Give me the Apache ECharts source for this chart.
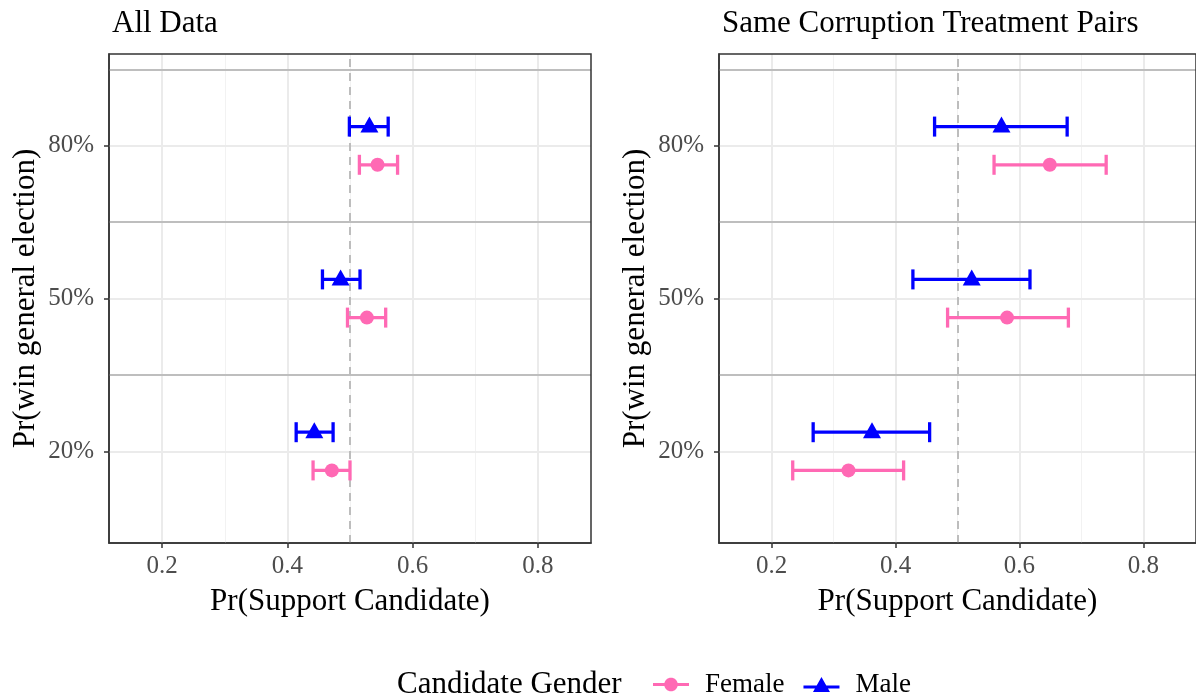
<!DOCTYPE html>
<html>
<head>
<meta charset="utf-8">
<script src="https://cdn.jsdelivr.net/npm/echarts@6/dist/echarts.min.js"></script>
<style>
html,body{margin:0;padding:0;background:#fff;}
#chart{width:1196px;height:698px;}
</style>
</head>
<body>
<div id="chart"></div>
<script>
// ---- data ----
const categories = ['20%', '50%', '80%'];
const xTicks = [0.2, 0.4, 0.6, 0.8];
const xMinor = [0.3, 0.5, 0.7];
const panelTitles = ['All Data', 'Same Corruption Treatment Pairs'];

const allFemaleEst = [0.471, 0.527, 0.544];
const allFemaleLo  = [0.441, 0.496, 0.515];
const allFemaleHi  = [0.500, 0.557, 0.576];
const allMaleEst   = [0.443, 0.485, 0.531];
const allMaleLo    = [0.414, 0.456, 0.499];
const allMaleHi    = [0.473, 0.516, 0.561];

const sameFemaleEst = [0.324, 0.580, 0.649];
const sameFemaleLo  = [0.234, 0.484, 0.559];
const sameFemaleHi  = [0.413, 0.679, 0.740];
const sameMaleEst   = [0.362, 0.523, 0.571];
const sameMaleLo    = [0.267, 0.428, 0.463];
const sameMaleHi    = [0.455, 0.617, 0.677];

const refLine = 0.5;
const separators = [1.5, 2.5, 3.5];

// ---- styling ----
const FONT = '"Liberation Serif", "DejaVu Serif", serif';
const FEMALE = '#FF69B4';
const MALE = '#0000FF';
const DODGE = 0.125;

const panels = [
  {female: [allFemaleEst, allFemaleLo, allFemaleHi], male: [allMaleEst, allMaleLo, allMaleHi]},
  {female: [sameFemaleEst, sameFemaleLo, sameFemaleHi], male: [sameMaleEst, sameMaleLo, sameMaleHi]}
];

function errRender(color) {
  return function (params, api) {
    const y = api.value(2);
    const a = api.coord([api.value(0), y]);
    const b = api.coord([api.value(1), y]);
    const h = 10, w = 3.3;
    const st = {fill: color};
    return {type: 'group', children: [
      {type: 'rect', shape: {x: a[0], y: a[1] - w / 2, width: b[0] - a[0], height: w}, style: st},
      {type: 'rect', shape: {x: a[0] - w / 2, y: a[1] - h, width: w, height: 2 * h}, style: st},
      {type: 'rect', shape: {x: b[0] - w / 2, y: b[1] - h, width: w, height: 2 * h}, style: st}
    ]};
  };
}

// circle icon path built as a polygon
function circlePath(cx, cy, r, n) {
  let s = '';
  for (let k = 0; k < n; k++) {
    const t = 2 * Math.PI * k / n;
    s += (k === 0 ? 'M' : 'L') + (cx + r * Math.cos(t)).toFixed(2) + ',' + (cy + r * Math.sin(t)).toFixed(2);
  }
  return s + 'Z';
}

const grids = [], xAxes = [], yAxes = [], series = [], titles = [];
const lefts = [109, 719];
panels.forEach((p, i) => {
  grids.push({left: lefts[i], top: 54, width: 482, height: 489, show: true,
    borderColor: '#333333', borderWidth: 1.5, backgroundColor: 'transparent', z: 10});
  titles.push({text: panelTitles[i], left: lefts[i] - 2, top: 3,
    textStyle: {fontFamily: FONT, fontSize: 31, fontWeight: 'normal', color: '#000'}});
  xAxes.push({type: 'value', gridIndex: i, min: 0.115, max: 0.885,
    name: 'Pr(Support Candidate)', nameLocation: 'middle', nameGap: 43,
    nameTextStyle: {fontFamily: FONT, fontSize: 31, color: '#000'},
    axisLine: {show: true, onZero: false, lineStyle: {color: '#333333', width: 1.5}},
    axisTick: {show: true, customValues: xTicks, length: 5, lineStyle: {color: '#333333', width: 1.5}},
    axisLabel: {customValues: xTicks, formatter: v => v.toFixed(1), margin: 11,
      fontFamily: FONT, fontSize: 25, color: '#4d4d4d'},
    splitLine: {show: false}});
  yAxes.push({type: 'value', gridIndex: i, min: 0.4, max: 3.6,
    name: 'Pr(win general election)', nameLocation: 'middle', nameGap: 68, nameRotate: 90,
    nameTextStyle: {fontFamily: FONT, fontSize: 31, color: '#000'},
    axisLine: {show: true, onZero: false, lineStyle: {color: '#333333', width: 1.5}},
    axisTick: {show: true, customValues: [1, 2, 3], length: 5, lineStyle: {color: '#333333', width: 1.5}},
    axisLabel: {customValues: [1, 2, 3], formatter: v => categories[Math.round(v) - 1], margin: 15,
      fontFamily: FONT, fontSize: 25, color: '#4d4d4d'},
    splitLine: {show: false}});

  series.push({type: 'scatter', xAxisIndex: i, yAxisIndex: i, data: [], z: 1, silent: true,
    markLine: {silent: true, symbol: 'none', label: {show: false}, animation: false, z: 1,
      data: [
        ...xMinor.map(v => ({xAxis: v, lineStyle: {color: '#f2f2f2', width: 1, type: 'solid'}})),
        ...xTicks.map(v => ({xAxis: v, lineStyle: {color: '#ebebeb', width: 2, type: 'solid'}})),
        ...[1, 2, 3].map(v => ({yAxis: v, lineStyle: {color: '#ebebeb', width: 2, type: 'solid'}}))
      ]}});
  series.push({type: 'scatter', xAxisIndex: i, yAxisIndex: i, data: [], z: 2, silent: true,
    markLine: {silent: true, symbol: 'none', label: {show: false}, animation: false, z: 2,
      data: [
        ...separators.map(v => ({yAxis: v, lineStyle: {color: '#bebebe', width: 2, type: 'solid'}})),
        {xAxis: refLine, lineStyle: {color: '#bdbdbd', width: 2, type: [8, 6]}}
      ]}});

  [['Female', p.female, FEMALE, -DODGE, 'circle', 14],
   ['Male', p.male, MALE, DODGE, 'triangle', [18, 16]]].forEach(([name, arr, color, off, sym, size]) => {
    const [est, lo, hi] = arr;
    series.push({type: 'custom', name: name, xAxisIndex: i, yAxisIndex: i, z: 6,
      renderItem: errRender(color), itemStyle: {color: color},
      encode: {x: [0, 1], y: 2},
      data: categories.map((c, k) => [lo[k], hi[k], k + 1 + off])});
    series.push({type: 'scatter', name: name, xAxisIndex: i, yAxisIndex: i, z: 7,
      symbol: sym, symbolSize: size, symbolOffset: sym === 'triangle' ? [0, -2] : [0, 0],
      itemStyle: {color: color, opacity: 1},
      data: categories.map((c, k) => [est[k], k + 1 + off])});
  });
});

const chart = echarts.init(document.getElementById('chart'), null, {renderer: 'canvas'});
chart.setOption({
  animation: false,
  backgroundColor: '#ffffff',
  title: titles,
  grid: grids,
  xAxis: xAxes,
  yAxis: yAxes,
  series: series,
  legend: {
    left: 648, top: 666, itemWidth: 36, itemHeight: 15, itemGap: 19,
    selectedMode: false,
    textStyle: {fontFamily: FONT, fontSize: 27, color: '#000', padding: [0, 0, 0, 11]},
    data: [
      {name: 'Female', icon: 'path://M0,6H36V9H0Z' + circlePath(18, 7.5, 6.8, 32)},
      {name: 'Male', icon: 'path://M0,8.5H36V11.5H0Z M18,0L26.5,15L9.5,15Z'}
    ]
  },
  graphic: [{type: 'text', left: 397, top: 669,
    style: {text: 'Candidate Gender', fontFamily: FONT, fontSize: 31, fill: '#000'}}]
});
</script>
</body>
</html>
